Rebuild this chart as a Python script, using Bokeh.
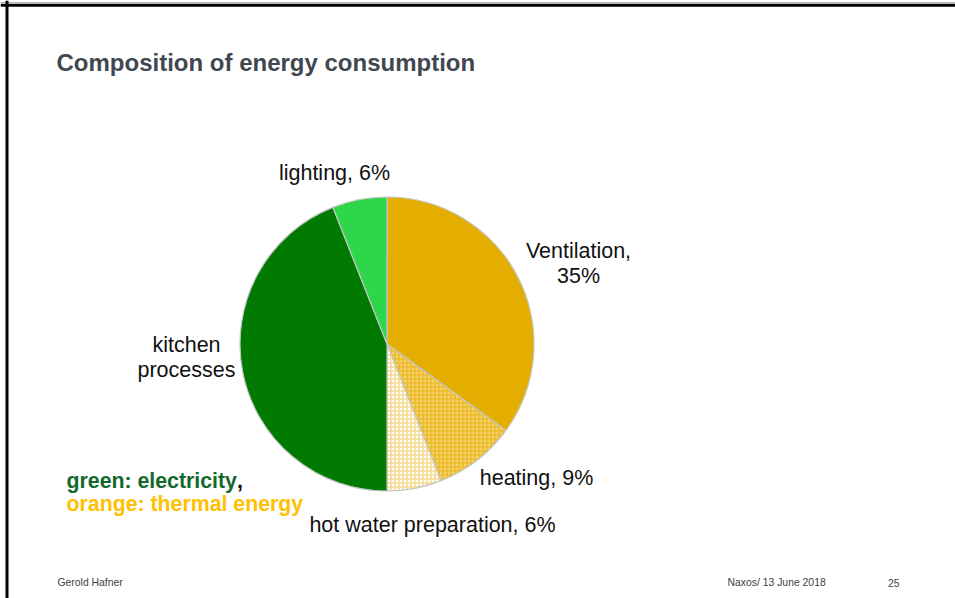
import math
from bokeh.plotting import figure
from bokeh.models import Range1d, Span
from bokeh.core.properties import value
from bokeh.embed import file_html
from bokeh.resources import INLINE

# ---- data ----
categories = ["Ventilation", "heating", "hot water preparation", "kitchen processes", "lighting"]
shares = [35, 9, 6, 44, 6]
fill_colors = ["#E3AE00", "#F6D36A", "#FFFFFF", "#007A00", "#2ED64A"]
hatch_patterns = [None, "cross", "cross", None, None]
hatch_colors = ["#E3AE00", "#EDBB2E", "#F6DB92", "#007A00", "#2ED64A"]
label_lines = [["Ventilation,", "35%"], ["heating, 9%"], ["hot water preparation, 6%"],
               ["kitchen", "processes"], ["lighting, 6%"]]

W, H = 955, 598
def Y(py):
    return H - py

p = figure(width=W, height=H, output_backend="svg", toolbar_location=None,
           x_range=Range1d(0, W), y_range=Range1d(0, H), min_border=0)
p.axis.visible = False
p.grid.visible = False
p.outline_line_color = None
p.background_fill_color = "white"
p.border_fill_color = "white"

# slide frame
p.add_layout(Span(location=Y(2.0), dimension="width", line_color="#B0B0B0", line_width=1))
p.add_layout(Span(location=Y(4.8), dimension="width", line_color="black", line_width=3))
p.add_layout(Span(location=6.5, dimension="height", line_color="black", line_width=3))

# pie
cx, cy, r = 386.5, Y(343.5), 147
total = sum(shares)
cum = 0.0
for i, s in enumerate(shares):
    a0 = math.pi / 2 - 2 * math.pi * cum / total
    cum += s
    a1 = math.pi / 2 - 2 * math.pi * cum / total
    kw = {}
    if hatch_patterns[i]:
        kw = dict(hatch_pattern=hatch_patterns[i], hatch_color=hatch_colors[i],
                  hatch_scale=4, hatch_weight=1.6)
    p.wedge(x=cx, y=cy, radius=r, start_angle=a1, end_angle=a0, direction="anticlock",
            fill_color=fill_colors[i], line_color="#C4C4C4", line_width=1.2, **kw)

font = value("Liberation Sans")
# slice labels
label_pos = [(578, [250, 275], "center"), (536, [477], "center"), (432, [524], "center"),
             (186, [344, 369], "center"), (334, [172], "center")]
for (x, ys, al), lines in zip(label_pos, label_lines):
    for yy, t in zip(ys, lines):
        p.text(x=[x], y=[Y(yy)], text=[t], text_font=font, text_font_size="21.5px",
               text_align=al, text_baseline="middle", text_color="#111111")

# title
p.text(x=[56], y=[Y(62)], text=["Composition of energy consumption"], text_font=font,
       text_font_size="24px", text_font_style="bold", text_color="#414751",
       text_baseline="middle")

# legend notes
p.text(x=[66], y=[Y(480)], text=["green: electricity"], text_font=font,
       text_font_size="21.3px", text_font_style="bold", text_color="#12692A",
       text_baseline="middle")
p.text(x=[236.5], y=[Y(480)], text=[","], text_font=font,
       text_font_size="21.3px", text_font_style="bold", text_color="#111111",
       text_baseline="middle")
p.text(x=[66], y=[Y(503)], text=["orange: thermal energy"], text_font=font,
       text_font_size="21.3px", text_font_style="bold", text_color="#FFC000",
       text_baseline="middle")

# footer
for x, t, al in [(57, "Gerold Hafner", "left"), (727, "Naxos/ 13 June 2018", "left"),
                 (899, "25", "right")]:
    p.text(x=[x], y=[Y(582)], text=[t], text_font=font, text_font_size="10.4px",
           text_align=al, text_baseline="middle", text_color="#404040")

open("out.html", "w").write(file_html(p, INLINE))
